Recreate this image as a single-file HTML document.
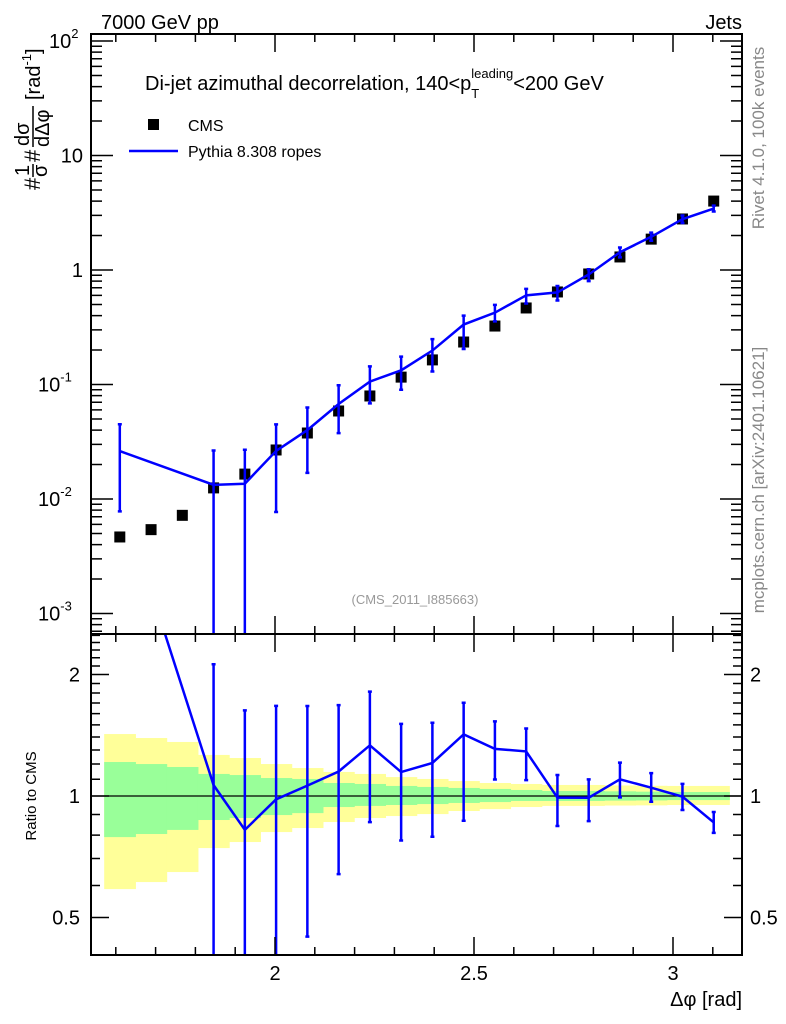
<!DOCTYPE html>
<html><head><meta charset="utf-8"><style>
html,body{margin:0;padding:0;background:#fff;overflow:hidden;width:786px;height:1024px}
svg{display:block;font-family:"Liberation Sans",sans-serif}
</style></head><body>
<svg id="chart" width="786" height="1024" viewBox="0 0 786 1024" xmlns="http://www.w3.org/2000/svg">
<text x="101" y="29" font-size="20">7000 GeV pp</text>
<text x="742" y="29" font-size="20" text-anchor="end">Jets</text>
<text x="145" y="90" font-size="20">Di-jet azimuthal decorrelation, 140&lt;p<tspan font-size="13" dy="8">T</tspan><tspan font-size="13" dx="-8" dy="-20">leading</tspan><tspan dy="12">&lt;200 GeV</tspan></text>
<rect x="148" y="119" width="11" height="11" fill="#000"/>
<text x="188" y="131" font-size="16">CMS</text>
<line x1="129" y1="151" x2="178" y2="151" stroke="#0000ff" stroke-width="2.5"/>
<text x="188" y="157" font-size="16">Pythia 8.308 ropes</text>
<text x="415" y="604" font-size="13" fill="#999" text-anchor="middle">(CMS_2011_I885663)</text>
<text transform="translate(764,138) rotate(-90)" font-size="17" fill="#888" text-anchor="middle">Rivet 4.1.0,  100k events</text>
<text transform="translate(764,480) rotate(-90)" font-size="17" fill="#888" text-anchor="middle">mcplots.cern.ch [arXiv:2401.10621]</text>
<g transform="translate(0,190) rotate(-90)">
 <text x="0" y="40" font-size="22">#</text>
 <text x="14" y="29" font-size="20">1</text>
 <line x1="13" y1="33" x2="26" y2="33" stroke="#000" stroke-width="1.5"/>
 <text x="13" y="47" font-size="20">σ</text>
 <text x="28" y="40" font-size="22">#</text>
 <text x="44" y="29" font-size="20">dσ</text>
 <line x1="43" y1="33" x2="84" y2="33" stroke="#000" stroke-width="1.5"/>
 <text x="43" y="49" font-size="20">dΔφ</text>
 <text x="90" y="40" font-size="20">[rad<tspan font-size="13" dy="-9">-1</tspan><tspan dy="9">]</tspan></text>
</g>
<text transform="translate(36,796) rotate(-90)" font-size="15" text-anchor="middle">Ratio to CMS</text>
<text x="742" y="1006" font-size="20" text-anchor="end">Δφ [rad]</text>
<g id="g"></g>
</svg>
<script>
const cmsVals=[0.00466,0.0054,0.0072,0.0125,0.0165,0.0268,0.0377,0.0587,0.0794,0.116,0.164,0.235,0.324,0.466,0.643,0.923,1.30,1.86,2.79,4.0];
const pyBins=[0,3,4,5,6,7,8,9,10,11,12,13,14,15,16,17,18,19];
const pyVals=[0.0262,0.0133,0.0136,0.0263,0.040,0.0675,0.106,0.133,0.198,0.334,0.424,0.601,0.637,0.914,1.43,1.95,2.78,3.44];
const pyHi=[0.045,0.0265,0.0269,0.0448,0.063,0.0986,0.144,0.175,0.249,0.40,0.496,0.685,0.725,1.015,1.573,2.12,2.99,3.65];
const pyLo=[0.0078,0.0005,0.0005,0.0077,0.0169,0.0376,0.0684,0.090,0.130,0.204,0.356,0.51,0.542,0.80,1.29,1.80,2.575,3.24];
const bandYHi=[1.424,1.392,1.361,1.264,1.242,1.200,1.173,1.147,1.134,1.114,1.102,1.089,1.077,1.071,1.065,1.065,1.062,1.06,1.059,1.059];
const bandYLo=[0.588,0.612,0.648,0.743,0.769,0.814,0.833,0.862,0.882,0.892,0.902,0.918,0.928,0.939,0.945,0.945,0.947,0.948,0.950,0.950];
const bandGHi=[1.214,1.200,1.180,1.134,1.127,1.108,1.102,1.077,1.071,1.059,1.053,1.047,1.041,1.035,1.029,1.029,1.027,1.025,1.023,1.023];
const bandGLo=[0.791,0.805,0.824,0.872,0.882,0.897,0.907,0.939,0.945,0.950,0.955,0.961,0.966,0.972,0.972,0.972,0.974,0.975,0.977,0.977];
const mainTicks=[["10","-3",-3],["10","-2",-2],["10","-1",-1],["1","",0],["10","",1],["10","2",2]];
const ratioTicks=[["2",2],["1",1],["0.5",0.5]];
const xTicks=[2,2.5,3];

const NS="http://www.w3.org/2000/svg";
const g=document.getElementById('g');
const L=91,R=742,T=34,M=634,B=955;
const X=v=>275+(v-2)*398;
const Y=v=>270-Math.log10(v)*114.5;
const RY=r=>796-Math.log2(r)*121.5;
const W=Math.PI/40, x0=Math.PI/2;
const ctr=i=>x0+(i+0.5)*W;
function el(t,a,p){const e=document.createElementNS(NS,t);for(const k in a)e.setAttribute(k,a[k]);(p||g).appendChild(e);return e;}
const clip=el('clipPath',{id:'cm'});el('rect',{x:L,y:T,width:R-L,height:M-T},clip);
const clip2=el('clipPath',{id:'cr'});el('rect',{x:L,y:M,width:R-L,height:B-M},clip2);
const gm=el('g',{'clip-path':'url(#cm)'});


const gr=el('g',{'clip-path':'url(#cr)'});


for(let i=0;i<20;i++){
 const xa=X(x0+i*W),xb=X(x0+(i+1)*W);
 const y1=el('rect',{x:xa,y:RY(bandYHi[i]),width:xb-xa+0.5,height:RY(bandYLo[i])-RY(bandYHi[i]),fill:'#ffff99'},gr);
 
 
}
for(let i=0;i<20;i++){
 const xa=X(x0+i*W),xb=X(x0+(i+1)*W);
 const y2=el('rect',{x:xa,y:RY(bandGHi[i]),width:xb-xa+0.5,height:RY(bandGLo[i])-RY(bandGHi[i]),fill:'#99ff99'},gr);
 
 
}
const one=el('line',{x1:L,x2:R,y1:RY(1),y2:RY(1),stroke:'#000','stroke-width':1.2},gr);


cmsVals.forEach((v,i)=>{
 const r=el('rect',{x:X(ctr(i))-5.5,y:Y(v)-5.5,width:11,height:11,fill:'#000'},gm);
 
 
});
const blue='#0000ff';
let pm='',pr='';
pyBins.forEach((b,k)=>{
 const x=X(ctr(b));
 pm+=(k?'L':'M')+x+' '+Y(pyVals[k]);
 pr+=(k?'L':'M')+x+' '+RY(pyVals[k]/cmsVals[b]);
 const e=el('path',{d:`M${x} ${Y(pyHi[k])}V${Y(pyLo[k])}M${x-2} ${Y(pyHi[k])}h4M${x-2} ${Y(pyLo[k])}h4`,stroke:blue,'stroke-width':2.5,fill:'none'},gm);
 
 
 if(b>0){
  const hi=RY(pyHi[k]/cmsVals[b]),lo=RY(pyLo[k]/cmsVals[b]);
  const e2=el('path',{d:`M${x} ${hi}V${lo}M${x-2} ${hi}h4M${x-2} ${lo}h4`,stroke:blue,'stroke-width':2.5,fill:'none'},gr);
  
  
 }
});
const lm=el('path',{d:pm,stroke:blue,'stroke-width':2.5,fill:'none'},gm);


const lr=el('path',{d:pr,stroke:blue,'stroke-width':2.5,fill:'none'},gr);


const f1=el('rect',{x:L,y:T,width:R-L,height:M-T,fill:'none',stroke:'#000','stroke-width':2});


const f2=el('rect',{x:L,y:M,width:R-L,height:B-M,fill:'none',stroke:'#000','stroke-width':2});


let td='';
for(let v=1.6;v<3.2;v+=0.1){const x=X(v);if(x<L||x>R)continue;const maj=Math.abs(v*2-Math.round(v*2))<1e-6;const len=maj?18:8;
 td+=`M${x} ${M}v${-len}M${x} ${T}v${len}M${x} ${M}v${len}M${x} ${B}v${-len}`;}
for(let d=-4;d<=2;d++)for(let m=1;m<10;m++){const y=Y(m*Math.pow(10,d));if(y<T||y>M)continue;const len=m===1?22:11;td+=`M${L} ${y}h${len}M${R} ${y}h${-len}`;}
for(let r=0.4;r<2.55;r+=0.1){const y=RY(r);if(y<M||y>B)continue;const maj=[0.5,1,2].some(q=>Math.abs(q-r)<1e-6);const len=maj?18:9;td+=`M${L} ${y}h${len}M${R} ${y}h${-len}`;}
const tk=el('path',{d:td,stroke:'#000','stroke-width':1.5,fill:'none'});


mainTicks.forEach(t=>{
 const y=Y(Math.pow(10,t[2]));
 const tx=el('text',{x:83,y:y+7,'font-size':20,'text-anchor':'end'});
 tx.textContent=t[0];
 if(t[1]){const s=el('tspan',{'font-size':13,dy:-10},tx);s.textContent=t[1];tx.setAttribute('text-anchor','start');tx.setAttribute('x',t[1].length>1?38:49);}
 
 
});
ratioTicks.forEach(t=>{
 const y=RY(t[1]);
 const a=el('text',{x:80,y:y+7,'font-size':20,'text-anchor':'end'});a.textContent=t[0];
 
 
 const b=el('text',{x:750,y:y+7,'font-size':20});b.textContent=t[0];
 
 
});
xTicks.forEach(v=>{
 const t=el('text',{x:X(v),y:980,'font-size':20,'text-anchor':'middle'});t.textContent=String(v);
 
 
});
</script>
</body></html>
